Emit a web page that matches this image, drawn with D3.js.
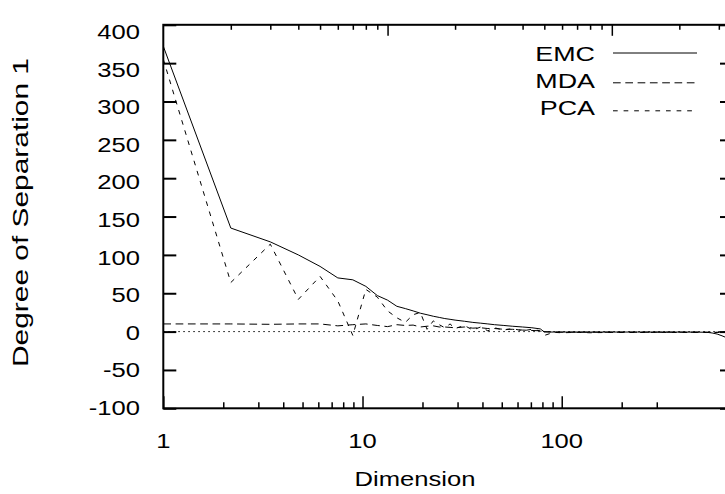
<!DOCTYPE html>
<html>
<head>
<meta charset="utf-8">
<script src="https://cdn.jsdelivr.net/npm/d3@7"></script>
<style>
  body { margin: 0; background: #fff; }
  svg { display: block; overflow: hidden; }
  text { font-family: "Liberation Sans", Arial, sans-serif; fill: #000; }
</style>
</head>
<body>
<figure id="chart" style="margin:0"></figure>
<script>
// dimensions at which each method was evaluated
const dims = [1, 2, 3, 4, 5, 6, 7, 8, 9, 10, 11, 12, 13, 14, 15, 16, 17, 18, 19, 20,
  22, 24, 26, 28, 30, 33, 36, 40, 44, 48, 50, 55, 60, 70, 80, 100, 130, 160, 200,
  240, 265, 280, 295, 310, 325, 347];

const emc = [372, 135, 117, 100, 85, 70, 67.5, 59, 47, 41, 33, 30, 27, 24, 22, 20, 18.5, 17, 16, 15,
  13.5, 12, 11, 10, 9, 8, 7, 6, 5, 3.5, -0.5, -0.6, -0.6, -0.6, -0.6, -0.6, -0.6, -0.6, -0.6,
  -0.7, -0.9, -1.8, -3.2, -5.5, -8, -11];

const mda = [10, 10, 9.5, 10, 10, 7.5, 9, 10, 8, 6.5, 9, 8, 8.5, 6, 7, 7.5, 6, 6, 5.5, 5,
  6, 4.5, 5, 4, 4, 3, 3, 2, 1.5, 1, 0, -0.5, -0.8, -0.8, -0.8, -0.8, -0.8, -0.8, -0.8,
  -0.8, -0.8, -0.8, -0.8, -0.8, -0.8, -0.8];

const pca = [355, 64, 114, 42, 72, 40, -5, 55, 45, 27, 18, 12, 22, 25, 3, 14, 9, 5, 10, 4,
  8, 2, 6, 1, 5, 2, 4, 1, 3, 1, -5, -1, -1.5, -1, -1.5, -1, -1.2, -1, -1.2,
  -1, -1.2, -1, -1.2, -1, -1.2, -1];

const seriesNames = ['EMC', 'MDA', 'PCA'];
const yTicks = [-100, -50, 0, 50, 100, 150, 200, 250, 300, 350, 400];
const xLabelTicks = [1, 10, 100];

// plot frame (right border sits just outside the picture, as in the original)
const W = 725, H = 494;
const frame = { left: 163.3, right: 733, top: 24.8, bottom: 408.3 };

// the bottom axis and the top axis / data use slightly different log scales
const xb = d3.scaleLog().domain([1, 724]).range([frame.left, frame.right]);
const xt = d3.scaleLog().domain([1, 347]).range([frame.left, frame.right]);
const y = d3.scaleLinear().domain([-100, 400]).range([frame.bottom, frame.top]);
// tick labels are spaced a little tighter than the tick marks
const yLab = d3.scaleLinear().domain([-100, 400]).range([407.5, 32]);

const stretch = 1.28; // text in the picture is horizontally widened

const svg = d3.select('figure#chart')
  .append('svg')
  .attr('width', W)
  .attr('height', H);

svg.append('defs').append('clipPath').attr('id', 'plotClip')
  .append('rect')
  .attr('x', frame.left).attr('y', frame.top)
  .attr('width', frame.right - frame.left).attr('height', frame.bottom - frame.top);

// minor tick values for the log axes
const minorTicks = [];
[1, 10, 100].forEach(d => {
  for (let k = 2; k <= 9; k++) minorTicks.push(d * k);
});

function styleAxis(g, w) {
  g.select('.domain').remove();
  g.selectAll('line').attr('stroke', '#000').attr('stroke-width', w);
}

// bottom axis (minor ticks stop at 300)
svg.append('g').attr('transform', `translate(0,${frame.bottom})`)
  .call(d3.axisBottom(xb).tickValues(minorTicks.filter(v => v <= 300)).tickSize(-6).tickFormat(''))
  .call(g => styleAxis(g, 1.5));
svg.append('g').attr('transform', `translate(0,${frame.bottom})`)
  .call(d3.axisBottom(xb).tickValues(xLabelTicks).tickSize(-12).tickFormat(''))
  .call(g => styleAxis(g, 1.5));

// top axis
svg.append('g').attr('transform', `translate(0,${frame.top})`)
  .call(d3.axisTop(xt).tickValues(minorTicks.filter(v => v < 347)).tickSize(-5).tickFormat(''))
  .call(g => styleAxis(g, 1.5));
svg.append('g').attr('transform', `translate(0,${frame.top})`)
  .call(d3.axisTop(xt).tickValues([10, 100]).tickSize(-11).tickFormat(''))
  .call(g => styleAxis(g, 1.5));

// left and right axes
svg.append('g').attr('transform', `translate(${frame.left},0)`)
  .call(d3.axisLeft(y).tickValues(yTicks).tickSize(-13).tickFormat(''))
  .call(g => styleAxis(g, 2));
svg.append('g').attr('transform', `translate(${frame.right},0)`)
  .call(d3.axisRight(y).tickValues(yTicks).tickSize(-13).tickFormat(''))
  .call(g => styleAxis(g, 2));

// tick labels
svg.append('g').selectAll('text')
  .data(yTicks)
  .enter()
  .append('text')
  .attr('transform', d => `translate(140,${yLab(d) + 7.2}) scale(${stretch},1)`)
  .attr('text-anchor', 'end')
  .style('font-size', '20px')
  .text(d => d);

svg.append('g').selectAll('text')
  .data(xLabelTicks)
  .enter()
  .append('text')
  .attr('transform', d => `translate(${xb(d)},448) scale(${stretch},1)`)
  .attr('text-anchor', 'middle')
  .style('font-size', '20px')
  .text(d => d);

// axis titles
svg.append('text')
  .attr('transform', `translate(415,486) scale(${stretch},1)`)
  .attr('text-anchor', 'middle')
  .style('font-size', '20px')
  .text('Dimension');

svg.append('text')
  .attr('transform', 'translate(28,212.5) rotate(-90)')
  .attr('text-anchor', 'middle')
  .attr('textLength', 309)
  .attr('lengthAdjust', 'spacingAndGlyphs')
  .style('font-size', '22px')
  .text('Degree of Separation 1');

// dotted zero axis
svg.append('line')
  .attr('x1', frame.left).attr('x2', frame.right)
  .attr('y1', y(0)).attr('y2', y(0))
  .attr('stroke', '#000')
  .attr('stroke-width', 1)
  .attr('stroke-dasharray', '1.5,3.5');

// data lines
const dashes = ['none', '7.7,4.6', '4.7,5.9'];
const series = [emc, mda, pca];
const line = d3.line()
  .x((d, i) => xt(dims[i]))
  .y(d => y(d));

svg.append('g').attr('clip-path', 'url(#plotClip)')
  .selectAll('path')
  .data(series)
  .enter()
  .append('path')
  .attr('d', d => line(d))
  .attr('fill', 'none')
  .attr('stroke', '#000')
  .attr('stroke-width', 1)
  .attr('stroke-dasharray', (d, i) => dashes[i]);

// legend
const legY = [60.7, 88.3, 115];
const legLineY = [53, 82.8, 110.8];
const legend = svg.append('g');
seriesNames.forEach((name, i) => {
  legend.append('text')
    .attr('transform', `translate(595,${legY[i]}) scale(${stretch},1)`)
    .attr('text-anchor', 'end')
    .style('font-size', '21px')
    .text(name);
  legend.append('line')
    .attr('x1', 613).attr('x2', 697)
    .attr('y1', legLineY[i]).attr('y2', legLineY[i])
    .attr('stroke', '#000')
    .attr('stroke-width', 1)
    .attr('stroke-dasharray', dashes[i]);
});

// plot border on top
svg.append('rect')
  .attr('x', frame.left).attr('y', frame.top)
  .attr('width', frame.right - frame.left).attr('height', frame.bottom - frame.top)
  .attr('fill', 'none')
  .attr('stroke', '#000')
  .attr('stroke-width', 2);
</script>
</body>
</html>
